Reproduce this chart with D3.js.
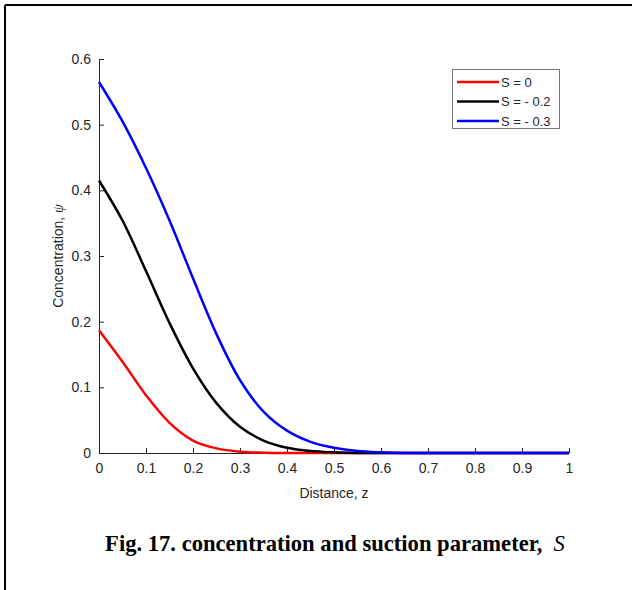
<!DOCTYPE html>
<html>
<head>
<meta charset="utf-8">
<script src="https://cdn.jsdelivr.net/npm/d3@7"></script>
<style>
  body { margin: 0; background: #fff; }
  svg text { font-family: "Liberation Sans", Arial, sans-serif; fill: #262626; }
</style>
</head>
<body>
<svg id="chart" width="632" height="590"></svg>
<script>
// distance z, sampled every 0.05
var distance = [0, 0.05, 0.1, 0.15, 0.2, 0.25, 0.3, 0.35, 0.4, 0.45, 0.5,
                0.55, 0.6, 0.65, 0.7, 0.75, 0.8, 0.85, 0.9, 0.95, 1];

// concentration for each suction value
var conc_s0   = [0.187, 0.139, 0.088, 0.046, 0.019, 0.007, 0.002, 0.0005, 0, 0, 0,
                 0, 0, 0, 0, 0, 0, 0, 0, 0, 0];
var conc_s02  = [0.415, 0.354, 0.277, 0.198, 0.129, 0.076, 0.04, 0.019, 0.008, 0.003, 0.001,
                 0, 0, 0, 0, 0, 0, 0, 0, 0, 0];
var conc_s03  = [0.565, 0.505, 0.434, 0.354, 0.266, 0.181, 0.111, 0.063, 0.034, 0.017, 0.008,
                 0.003, 0.001, 0, 0, 0, 0, 0, 0, 0, 0];

var series_names = ["S = 0", "S = - 0.2", "S = - 0.3"];
var series_colors = ["#ff0000", "#000000", "#0000ff"];
var series_values = [conc_s0, conc_s02, conc_s03];

var x_ticks = [0, 0.1, 0.2, 0.3, 0.4, 0.5, 0.6, 0.7, 0.8, 0.9, 1];
var y_ticks = [0, 0.1, 0.2, 0.3, 0.4, 0.5, 0.6];

var svg = d3.select("#chart");

// page frame (only left and top edges show)
svg.append("line").attr("x1", 5).attr("y1", 5).attr("x2", 632).attr("y2", 5)
  .attr("stroke", "#000").attr("stroke-width", 2);
svg.append("line").attr("x1", 5).attr("y1", 5).attr("x2", 5).attr("y2", 590)
  .attr("stroke", "#000").attr("stroke-width", 2);

var x = d3.scaleLinear().domain([0, 1]).range([99, 569]);
var y = d3.scaleLinear().domain([0, 0.6]).range([453, 59]);

var axis_col = "#262626";

// x axis, ticks pointing inward
var gx = svg.append("g").attr("transform", "translate(0,453)")
  .call(d3.axisBottom(x).tickValues(x_ticks).tickSize(-5).tickPadding(10)
    .tickFormat(function(d) { return d3.format("")(d); }));
gx.selectAll("path, line").attr("stroke", axis_col);
gx.select(".domain").attr("d", "M" + x(0) + ",0.5H" + x(1));
gx.selectAll("text").attr("font-size", 14).attr("fill", axis_col)
  .style("font-family", "Liberation Sans, Arial, sans-serif");

var gy = svg.append("g").attr("transform", "translate(99,0)")
  .call(d3.axisLeft(y).tickValues(y_ticks).tickSize(-5).tickPadding(8)
    .tickFormat(function(d) { return d3.format("")(d); }));
gy.selectAll("path, line").attr("stroke", axis_col);
gy.select(".domain").attr("d", "M0.5," + y(0.6) + "V" + y(0));
gy.selectAll("text").attr("font-size", 14).attr("fill", axis_col)
  .style("font-family", "Liberation Sans, Arial, sans-serif");

// axis titles
svg.append("text").attr("x", 334).attr("y", 498).attr("text-anchor", "middle")
  .attr("font-size", 14).text("Distance, z");

var ylab = svg.append("text")
  .attr("transform", "translate(63,256) rotate(-90)")
  .attr("text-anchor", "middle").attr("font-size", 14);
ylab.append("tspan").text("Concentration, ");
ylab.append("tspan").attr("font-style", "italic")
  .style("font-family", "Liberation Serif, serif").text("ψ");

// curves
var line = d3.line()
  .x(function(d) { return x(d[0]); })
  .y(function(d) { return y(d[1]); })
  .curve(d3.curveCatmullRom.alpha(0.5));

series_values.forEach(function(vals, i) {
  svg.append("path")
    .datum(distance.map(function(z, k) { return [z, vals[k]]; }))
    .attr("fill", "none")
    .attr("stroke", series_colors[i])
    .attr("stroke-width", 2.5)
    .attr("d", line);
});

// legend
var leg = svg.append("g");
leg.append("rect").attr("x", 452.5).attr("y", 69.5).attr("width", 107).attr("height", 59)
  .attr("fill", "#fff").attr("stroke", "#777").attr("stroke-width", 1);
series_names.forEach(function(name, i) {
  var ly = 82 + i * 19.5;
  leg.append("line").attr("x1", 457).attr("x2", 499).attr("y1", ly).attr("y2", ly)
    .attr("stroke", series_colors[i]).attr("stroke-width", 2.5);
  leg.append("text").attr("x", 501).attr("y", ly + 4.5).attr("font-size", 13)
    .attr("fill", "#000").text(name);
});

// figure caption
var cap = svg.append("text").attr("x", 335).attr("y", 551).attr("text-anchor", "middle")
  .style("font-family", "Liberation Serif, 'Times New Roman', serif")
  .attr("font-size", 22.6).attr("fill", "#000");
cap.append("tspan").attr("font-weight", "bold").style("fill", "#000")
  .text("Fig. 17. concentration and suction parameter,\u00a0 ");
cap.append("tspan").attr("font-style", "italic").style("fill", "#000").text("S");
</script>
</body>
</html>
